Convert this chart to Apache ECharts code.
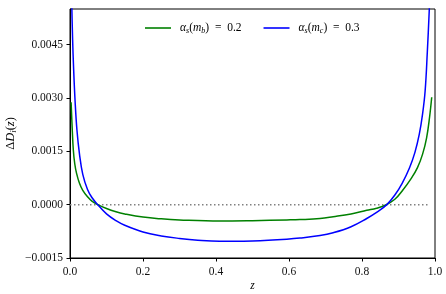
<!DOCTYPE html>
<html>
<head>
<meta charset="utf-8">
<script src="https://cdn.jsdelivr.net/npm/echarts@6/dist/echarts.min.js"></script>
<style>html,body{margin:0;padding:0;background:#fff;}#c{width:446px;height:294px;}</style>
</head>
<body>
<div id="c"></div>
<script>
var seriesNames = ['alpha_b', 'alpha_c'];
var xTicks = [0.0, 0.2, 0.4, 0.6, 0.8, 1.0];
var yTicks = [-0.0015, 0.0000, 0.0015, 0.0030, 0.0045];
var greenData = [
  [0.003, 0.00288], [0.006, 0.00215], [0.009, 0.00155], [0.013, 0.00115],
  [0.018, 0.00088], [0.026, 0.0006], [0.035, 0.0004], [0.048, 0.00022],
  [0.06, 0.0001], [0.076, 0.0], [0.1, -0.00011], [0.126, -0.0002],
  [0.15, -0.00026], [0.2, -0.00035], [0.25, -0.0004], [0.3, -0.00043],
  [0.41, -0.00046], [0.5, -0.00045], [0.594, -0.00043], [0.63, -0.00042],
  [0.685, -0.00039], [0.721, -0.00034], [0.77, -0.00026], [0.813, -0.00016],
  [0.84, -0.0001], [0.865, -0.00001], [0.89, 0.00015], [0.911, 0.0004],
  [0.935, 0.00074], [0.952, 0.00104], [0.966, 0.00142], [0.977, 0.00188],
  [0.985, 0.00245], [0.991, 0.00302]
];
var blueData = [
  [0.004, 0.0060], [0.007, 0.0047], [0.01, 0.0038], [0.014, 0.0029],
  [0.019, 0.0021], [0.026, 0.00142], [0.035, 0.00085], [0.048, 0.000425],
  [0.06, 0.0002], [0.076, 0.0], [0.1, -0.00026], [0.126, -0.00045],
  [0.15, -0.00058], [0.2, -0.00077], [0.25, -0.00088], [0.3, -0.00095],
  [0.35, -0.001], [0.41, -0.00103], [0.45, -0.00103], [0.5, -0.00102],
  [0.594, -0.00097], [0.63, -0.00094], [0.685, -0.00087], [0.721, -0.00079],
  [0.77, -0.00062], [0.813, -0.00039], [0.84, -0.00022], [0.868, 0.0],
  [0.89, 0.00027], [0.91, 0.0006], [0.93, 0.00103], [0.945, 0.00147],
  [0.957, 0.00198], [0.966, 0.00255], [0.973, 0.0032], [0.979, 0.0043],
  [0.984, 0.0054], [0.987, 0.0062]
];
var zeroLine = [[0.0, 0.0], [0.985, 0.0]];

var serif = '"Liberation Serif", "DejaVu Serif", serif';
function mkRich(fs) {
  return {
    it: {fontFamily: serif, fontStyle: 'italic', fontSize: fs, color: '#000'},
    n: {fontFamily: serif, fontSize: fs, color: '#000'},
    sub: {fontFamily: serif, fontStyle: 'italic', fontSize: fs * 0.7, color: '#000', padding: [fs * 0.45, 0, 0, 0]}
  };
}
var legendLabels = {
  alpha_b: '{it|α}{sub|s}{n|(}{it|m}{sub|b}{n|)  =  0.2}',
  alpha_c: '{it|α}{sub|s}{n|(}{it|m}{sub|c}{n|)  =  0.3}'
};

var chart = echarts.init(document.getElementById('c'));
chart.setOption({
  animation: false,
  backgroundColor: '#fff',
  grid: {left: 70, right: 11, top: 9, bottom: 36, show: true, borderColor: '#000', borderWidth: 1,
    backgroundColor: 'transparent', containLabel: false, outerBoundsMode: 'none'},
  legend: {
    top: 17, left: 140, itemWidth: 26, itemHeight: 1.6, itemGap: 22,
    icon: 'rect',
    data: seriesNames,
    formatter: function (name) { return legendLabels[name]; },
    textStyle: {rich: mkRich(11.5), padding: [0, 0, 0, 4]}
  },
  xAxis: {
    type: 'value', min: 0, max: 1, interval: 0.2,
    name: '{it|z}', nameLocation: 'middle', nameGap: 22, nameMoveOverlap: false,
    nameTextStyle: {rich: mkRich(11.5)},
    axisLine: {show: true, onZero: false, lineStyle: {color: '#000', width: 1}},
    axisTick: {show: true, inside: false, length: 3.5, lineStyle: {color: '#000'}},
    axisLabel: {fontFamily: serif, fontSize: 11.5, color: '#111', margin: 8,
      formatter: function (v) { return v.toFixed(1); }},
    splitLine: {show: false}
  },
  yAxis: {
    type: 'value', min: -0.0015, max: 0.0055, interval: 0.0015,
    name: '{n|Δ}{it|D}{sub|i}{n|(}{it|z}{n|)}', nameLocation: 'middle', nameGap: 52, nameRotate: 90,
    nameMoveOverlap: false,
    nameTextStyle: {rich: mkRich(12.5)},
    axisLine: {show: true, onZero: false, lineStyle: {color: '#000', width: 1}},
    axisTick: {show: true, inside: false, length: 3.5, lineStyle: {color: '#000'}},
    axisLabel: {fontFamily: serif, fontSize: 11.5, color: '#111', margin: 7, showMaxLabel: false,
      formatter: function (v) {
        for (var i = 0; i < yTicks.length; i++) {
          if (Math.abs(v - yTicks[i]) < 1e-9) {
            var s = Math.abs(yTicks[i]).toFixed(4);
            return yTicks[i] < 0 ? '\u2212' + s : s;
          }
        }
        return '';
      }},
    splitLine: {show: false}
  },
  series: [
    {name: 'zero', type: 'line', data: zeroLine, symbol: 'none', silent: true,
      lineStyle: {color: '#808080', width: 1.5, type: [1.5, 2.5]}, z: 1},
    {name: 'alpha_b', type: 'line', data: greenData, symbol: 'none', smooth: 0.4,
      lineStyle: {color: '#008000', width: 1.5}, itemStyle: {color: '#008000'}, z: 2},
    {name: 'alpha_c', type: 'line', data: blueData, symbol: 'none', smooth: 0.4,
      lineStyle: {color: '#0000ff', width: 1.5}, itemStyle: {color: '#0000ff'}, z: 3}
  ]
});
</script>
</body>
</html>
